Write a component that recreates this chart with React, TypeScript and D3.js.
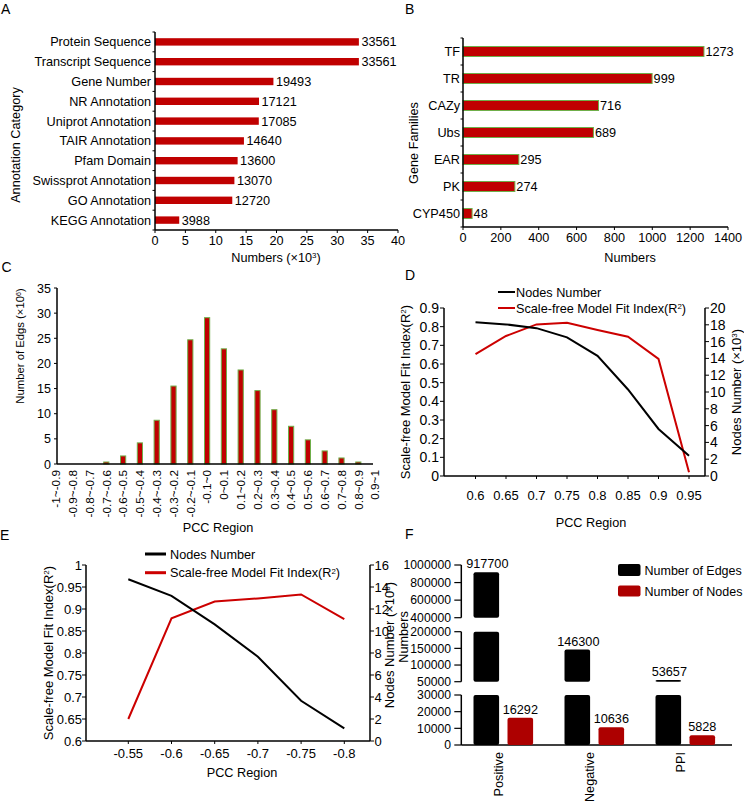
import React from 'react';
import * as d3 from 'd3';

const FONT = '"Liberation Sans", Arial, Helvetica, sans-serif';
const RED = '#c00000';
const LINE_RED = '#cc0000';
const GREEN = '#6fae4a';
const DARK_RED = '#ad0000';

// ---------- Panel A ----------
const annotationCategories = [
  'Protein Sequence', 'Transcript Sequence', 'Gene Number', 'NR Annotation', 'Uniprot Annotation',
  'TAIR Annotation', 'Pfam Domain', 'Swissprot Annotation', 'GO Annotation', 'KEGG Annotation',
];
const annotationCounts = [33561, 33561, 19493, 17121, 17085, 14640, 13600, 13070, 12720, 3988];
const annotationTicks = [0, 5, 10, 15, 20, 25, 30, 35, 40]; // ×10³

// ---------- Panel B ----------
const geneFamilies = ['TF', 'TR', 'CAZy', 'Ubs', 'EAR', 'PK', 'CYP450'];
const geneFamilyCounts = [1273, 999, 716, 689, 295, 274, 48];
const geneFamilyTicks = [0, 200, 400, 600, 800, 1000, 1200, 1400];

// ---------- Panel C ----------
const pccRegions = [
  '-1~-0.9', '-0.9~-0.8', '-0.8~-0.7', '-0.7~-0.6', '-0.6~-0.5', '-0.5~-0.4', '-0.4~-0.3',
  '-0.3~-0.2', '-0.2~-0.1', '-0.1~0', '0~0.1', '0.1~0.2', '0.2~0.3', '0.3~0.4', '0.4~0.5',
  '0.5~0.6', '0.6~0.7', '0.7~0.8', '0.8~0.9', '0.9~1',
];
const edgeCounts = [0, 0, 0, 0.4, 1.6, 4.2, 8.7, 15.5, 24.7, 29.1, 22.9, 18.7, 14.6, 10.8, 7.5, 4.8, 2.6, 1.2, 0.4, 0];
const edgeTicks = [0, 5, 10, 15, 20, 25, 30, 35];

// ---------- Panel D ----------
const thresholdsD = ['0.6', '0.65', '0.7', '0.75', '0.8', '0.85', '0.9', '0.95'];
const nodesD = [18.3, 18.05, 17.6, 16.5, 14.3, 10.3, 5.6, 2.4];
const r2D = [0.653, 0.75, 0.812, 0.821, 0.782, 0.746, 0.627, 0.02];
const r2TicksD = [0, 0.1, 0.2, 0.3, 0.4, 0.5, 0.6, 0.7, 0.8, 0.9];
const nodeTicksD = [0, 2, 4, 6, 8, 10, 12, 14, 16, 18, 20];

// ---------- Panel E ----------
const thresholdsE = ['-0.55', '-0.6', '-0.65', '-0.7', '-0.75', '-0.8'];
const nodesE = [14.7, 13.2, 10.6, 7.66, 3.66, 1.15];
const r2E = [0.65, 0.879, 0.917, 0.924, 0.933, 0.877];
const r2TicksE = [0.6, 0.65, 0.7, 0.75, 0.8, 0.85, 0.9, 0.95, 1];
const nodeTicksE = [0, 2, 4, 6, 8, 10, 12, 14, 16];

// ---------- Panel F ----------
const networkTypes = ['Positive', 'Negative', 'PPI'];
const edgeNumbers = [917700, 146300, 53657];
const nodeNumbers = [16292, 10636, 5828];
const segmentDomains: [number, number][] = [[0, 30000], [50000, 200000], [400000, 1000000]];
const segmentTicks = [
  [0, 10000, 20000, 30000],
  [50000, 100000, 150000, 200000],
  [400000, 600000, 800000, 1000000],
];

const fmt = (v: number) => String(+v.toFixed(2));

function Sup({ t }: { t: string }) {
  return (
    <>
      <tspan fontSize="0.62em" dy="-0.45em">{t}</tspan>
      <tspan dy="0.28em">)</tspan>
    </>
  );
}

function VText({ x, y, size, children, anchor = 'middle' }: any) {
  return (
    <text transform={`translate(${x},${y}) rotate(-90)`} textAnchor={anchor} fontSize={size}>
      {children}
    </text>
  );
}

export default function App() {
  // Panel A
  const ax = d3.scaleLinear().domain([0, 40]).range([155, 398]);
  const ay = d3.scaleBand().domain(annotationCategories).range([32, 230]);
  const aTop = 32, aBottom = 230;

  // Panel B
  const bx = d3.scaleLinear().domain([0, 1400]).range([463, 728]);
  const by = d3.scaleBand().domain(geneFamilies).range([38, 227]);

  // Panel C
  const cx = d3.scaleBand().domain(pccRegions).range([47.5, 383.5]);
  const cy = d3.scaleLinear().domain([0, 35]).range([464, 288]);

  // Panel D
  const dx = d3.scalePoint().domain(thresholdsD).range([475.5, 689]);
  const dyL = d3.scaleLinear().domain([0, 0.9]).range([476, 308]);
  const dyR = d3.scaleLinear().domain([0, 20]).range([476, 308]);
  const dNodesLine = d3.line<number>().x((_, i) => dx(thresholdsD[i])!).y((v) => dyR(v));
  const dR2Line = d3.line<number>().x((_, i) => dx(thresholdsD[i])!).y((v) => dyL(v));

  // Panel E
  const ex = d3.scalePoint().domain(thresholdsE).range([128.3, 344.3]);
  const eyL = d3.scaleLinear().domain([0.6, 1]).range([741, 565]);
  const eyR = d3.scaleLinear().domain([0, 16]).range([741, 565]);
  const eNodesLine = d3.line<number>().x((_, i) => ex(thresholdsE[i])!).y((v) => eyR(v));
  const eR2Line = d3.line<number>().x((_, i) => ex(thresholdsE[i])!).y((v) => eyL(v));

  // Panel F
  const fx = d3.scaleBand().domain(networkTypes).range([458, 731]);
  const segRanges: [number, number][] = [[745, 695], [681.7, 631.7], [617.7, 565]];
  const fSegs = segmentDomains.map((dom, i) => d3.scaleLinear().domain(dom).range(segRanges[i]));
  const fAxisX = 461.3;
  const barW = 25.6;

  return (
    <svg width={744} height={805} style={{ position: 'absolute', left: 0, top: 0, background: '#fff' }}
      fontFamily={FONT} fill="#000">
      <rect x={0} y={0} width={744} height={805} fill="#fff" />

      {/* ================= A ================= */}
      <text x={1} y={13.5} fontSize={14}>A</text>
      {annotationCategories.map((c, i) => {
        const y = ay(c)! + ay.bandwidth() / 2;
        const v = annotationCounts[i];
        return (
          <g key={c}>
            <rect x={ax(0)} y={y - 3.7} width={ax(v / 1000) - ax(0)} height={7.4} fill={RED} />
            <text x={ax(v / 1000) + 2.5} y={y + 4.5} fontSize={12.7}>{v}</text>
            <text x={151} y={y + 4.5} fontSize={12.7} textAnchor="end">{c}</text>
          </g>
        );
      })}
      {d3.range(annotationCategories.length + 1).map((i) => {
        const y = aTop + i * ay.step();
        return <line key={i} x1={152.5} x2={155} y1={y} y2={y} stroke="#000" strokeWidth={1} />;
      })}
      <line x1={155} x2={155} y1={aTop} y2={aBottom} stroke="#000" strokeWidth={1.5} />
      <line x1={155} x2={398} y1={aBottom} y2={aBottom} stroke="#000" strokeWidth={1.5} />
      {annotationTicks.map((t) => (
        <g key={t}>
          <line x1={ax(t)} x2={ax(t)} y1={aBottom} y2={aBottom + 3} stroke="#000" strokeWidth={1} />
          <text x={ax(t)} y={245} fontSize={12.7} textAnchor="middle">{t}</text>
        </g>
      ))}
      <text x={276} y={262} fontSize={12.7} textAnchor="middle">
        Numbers (×10<Sup t="3" />
      </text>
      <VText x={19.5} y={145} size={12.7}>Annotation Category</VText>

      {/* ================= B ================= */}
      <text x={405} y={13.5} fontSize={14}>B</text>
      {geneFamilies.map((c, i) => {
        const y = by(c)! + by.bandwidth() / 2;
        const v = geneFamilyCounts[i];
        return (
          <g key={c}>
            <rect x={bx(0)} y={y - 5} width={bx(v) - bx(0)} height={10} fill={RED} stroke={GREEN} strokeWidth={1} />
            <text x={bx(v) + 1.5} y={y + 4.5} fontSize={12.7}>{v}</text>
            <text x={460} y={y + 4.5} fontSize={12.7} textAnchor="end">{c}</text>
          </g>
        );
      })}
      {d3.range(geneFamilies.length + 1).map((i) => {
        const y = 38 + i * by.step();
        return <line key={i} x1={460.5} x2={463} y1={y} y2={y} stroke="#000" strokeWidth={1} />;
      })}
      <line x1={463} x2={463} y1={38} y2={227} stroke="#000" strokeWidth={1.5} />
      <line x1={463} x2={728} y1={227} y2={227} stroke="#000" strokeWidth={1.5} />
      {geneFamilyTicks.map((t) => (
        <g key={t}>
          <line x1={bx(t)} x2={bx(t)} y1={227} y2={230} stroke="#000" strokeWidth={1} />
          <text x={bx(t)} y={241.5} fontSize={12.7} textAnchor="middle">{t}</text>
        </g>
      ))}
      <text x={630} y={262} fontSize={12.7} textAnchor="middle">Numbers</text>
      <VText x={417.5} y={143} size={12.7}>Gene Families</VText>

      {/* ================= C ================= */}
      <text x={1.5} y={272} fontSize={14}>C</text>
      {pccRegions.map((c, i) => {
        const xc = cx(c)! + cx.bandwidth() / 2;
        const v = edgeCounts[i];
        return (
          <g key={c}>
            {v > 0 && (
              <rect x={xc - 2.6} y={cy(v)} width={5.2} height={cy(0) - cy(v)} fill={RED} stroke={GREEN} strokeWidth={1} />
            )}
            <VText x={xc + 4.2} y={470} size={11.8} anchor="end">{c}</VText>
          </g>
        );
      })}
      <line x1={57} x2={57} y1={288} y2={464} stroke="#000" strokeWidth={1.5} />
      <line x1={57} x2={373} y1={464} y2={464} stroke="#000" strokeWidth={1.5} />
      {edgeTicks.map((t) => (
        <g key={t}>
          <line x1={54} x2={57} y1={cy(t)} y2={cy(t)} stroke="#000" strokeWidth={1} />
          <text x={51} y={cy(t) + 4.5} fontSize={12.5} textAnchor="end">{t}</text>
        </g>
      ))}
      <text x={218} y={532} fontSize={12.7} textAnchor="middle">PCC Region</text>
      <VText x={24} y={346} size={11.3}>
        Number of Edgs (×10<Sup t="6" />
      </VText>

      {/* ================= D ================= */}
      <text x={405} y={280} fontSize={14}>D</text>
      <line x1={444} x2={444} y1={308} y2={476} stroke="#000" strokeWidth={1.5} />
      <line x1={705} x2={705} y1={308} y2={476} stroke="#000" strokeWidth={1.5} />
      <line x1={444} x2={705} y1={476} y2={476} stroke="#000" strokeWidth={1.5} />
      {r2TicksD.map((t) => (
        <g key={t}>
          <line x1={440} x2={444} y1={dyL(t)} y2={dyL(t)} stroke="#000" strokeWidth={1} />
          <text x={439} y={dyL(t) + 5} fontSize={14} textAnchor="end">{fmt(t)}</text>
        </g>
      ))}
      {nodeTicksD.map((t) => (
        <g key={t}>
          <line x1={705} x2={709} y1={dyR(t)} y2={dyR(t)} stroke="#000" strokeWidth={1} />
          <text x={710} y={dyR(t) + 5} fontSize={14}>{t}</text>
        </g>
      ))}
      {thresholdsD.map((t) => (
        <g key={t}>
          <line x1={dx(t)!} x2={dx(t)!} y1={476} y2={479} stroke="#000" strokeWidth={1} />
          <text x={dx(t)!} y={500} fontSize={13} textAnchor="middle">{t}</text>
        </g>
      ))}
      <path d={dR2Line(r2D)!} fill="none" stroke={LINE_RED} strokeWidth={2} />
      <path d={dNodesLine(nodesD)!} fill="none" stroke="#000" strokeWidth={2} />
      <line x1={498} x2={515} y1={292} y2={292} stroke="#000" strokeWidth={2} />
      <text x={516} y={296.5} fontSize={12.7}>Nodes Number</text>
      <line x1={498} x2={515} y1={308} y2={308} stroke={LINE_RED} strokeWidth={2} />
      <text x={516} y={312.5} fontSize={12.7}>
        Scale-free Model Fit Index(R<Sup t="2" />
      </text>
      <text x={591} y={527} fontSize={12.7} textAnchor="middle">PCC Region</text>
      <VText x={409.5} y={392} size={13}>
        Scale-free Model Fit Index(R<Sup t="2" />
      </VText>
      <VText x={741} y={392} size={13}>
        Nodes Number (×10<Sup t="3" />
      </VText>

      {/* ================= E ================= */}
      <text x={0} y={540} fontSize={14}>E</text>
      <line x1={86} x2={86} y1={565} y2={741} stroke="#000" strokeWidth={1.5} />
      <line x1={370} x2={370} y1={565} y2={741} stroke="#000" strokeWidth={1.5} />
      <line x1={86} x2={370} y1={741} y2={741} stroke="#000" strokeWidth={1.5} />
      {r2TicksE.map((t) => (
        <g key={t}>
          <line x1={82} x2={86} y1={eyL(t)} y2={eyL(t)} stroke="#000" strokeWidth={1} />
          <text x={82} y={eyL(t) + 4.6} fontSize={13} textAnchor="end">{fmt(t)}</text>
        </g>
      ))}
      {nodeTicksE.map((t) => (
        <g key={t}>
          <line x1={370} x2={374} y1={eyR(t)} y2={eyR(t)} stroke="#000" strokeWidth={1} />
          <text x={374.5} y={eyR(t) + 4.6} fontSize={13}>{t}</text>
        </g>
      ))}
      {thresholdsE.map((t) => (
        <g key={t}>
          <line x1={ex(t)!} x2={ex(t)!} y1={741} y2={744} stroke="#000" strokeWidth={1} />
          <text x={ex(t)!} y={758} fontSize={13} textAnchor="middle">{t}</text>
        </g>
      ))}
      <path d={eR2Line(r2E)!} fill="none" stroke={LINE_RED} strokeWidth={2} />
      <path d={eNodesLine(nodesE)!} fill="none" stroke="#000" strokeWidth={2} />
      <line x1={145} x2={166} y1={554} y2={554} stroke="#000" strokeWidth={3} />
      <text x={170} y={558.5} fontSize={12.7}>Nodes Number</text>
      <line x1={145} x2={166} y1={572.7} y2={572.7} stroke={LINE_RED} strokeWidth={3} />
      <text x={170} y={577.2} fontSize={12.7}>
        Scale-free Model Fit Index(R<Sup t="2" />
      </text>
      <text x={242} y={777} fontSize={12.7} textAnchor="middle">PCC Region</text>
      <VText x={52.5} y={653} size={13}>
        Scale-free Model Fit Index(R<Sup t="2" />
      </VText>
      <VText x={393.5} y={645} size={13}>
        Nodes Number (×10<Sup t="3" />
      </VText>

      {/* ================= F ================= */}
      <text x={405} y={539} fontSize={14}>F</text>
      {segmentDomains.map((dom, si) => {
        const s = fSegs[si];
        return (
          <g key={si}>
            <line x1={fAxisX} x2={fAxisX} y1={s(dom[1])} y2={s(dom[0])} stroke="#000" strokeWidth={1.5} />
            {segmentTicks[si].map((t) => (
              <g key={t}>
                <line x1={fAxisX - 7} x2={fAxisX} y1={s(t)} y2={s(t)} stroke="#000" strokeWidth={1.2} />
                <text x={451} y={s(t) + 4.3} fontSize={12.2} textAnchor="end">{t}</text>
              </g>
            ))}
            {networkTypes.map((n, i) => {
              const v = edgeNumbers[i];
              if (v <= dom[0]) return null;
              const top = s(Math.min(v, dom[1]));
              const bottom = s(dom[0]);
              const xc = fx(n)! + fx.bandwidth() / 2;
              const h = Math.max(bottom - top, 1.6);
              return (
                <rect key={n} x={xc - 30} y={bottom - h} width={barW} height={h} rx={2} fill="#000" />
              );
            })}
          </g>
        );
      })}
      <line x1={fAxisX} x2={732} y1={745} y2={745} stroke="#000" strokeWidth={1.5} />
      {networkTypes.map((n, i) => {
        const xc = fx(n)! + fx.bandwidth() / 2;
        const v = nodeNumbers[i];
        const s0 = fSegs[0];
        const ev = edgeNumbers[i];
        const segIdx = segmentDomains.findIndex((d) => ev >= d[0] && ev <= d[1]);
        const eTop = fSegs[segIdx](ev);
        return (
          <g key={n}>
            <rect x={xc + 4} y={s0(v)} width={barW} height={s0(0) - s0(v)} rx={2} fill={DARK_RED} />
            <text x={xc + 4 + barW / 2} y={s0(v) - 4} fontSize={12.7} textAnchor="middle">{v}</text>
            <text x={xc - 30 + barW / 2 + 1} y={eTop - 4} fontSize={12.7} textAnchor="middle">{ev}</text>
            <VText x={xc - 0.5} y={752} size={12.7} anchor="end">{n}</VText>
          </g>
        );
      })}
      <rect x={618} y={564} width={22.5} height={12} rx={2} fill="#000" />
      <text x={644.5} y={574.5} fontSize={12.5}>Number of Edges</text>
      <rect x={618} y={585.5} width={22.5} height={11} rx={2} fill={DARK_RED} />
      <text x={644.5} y={595.5} fontSize={12.5}>Number of Nodes</text>
      <VText x={408} y={637} size={12.7}>Numbers</VText>
    </svg>
  );
}
